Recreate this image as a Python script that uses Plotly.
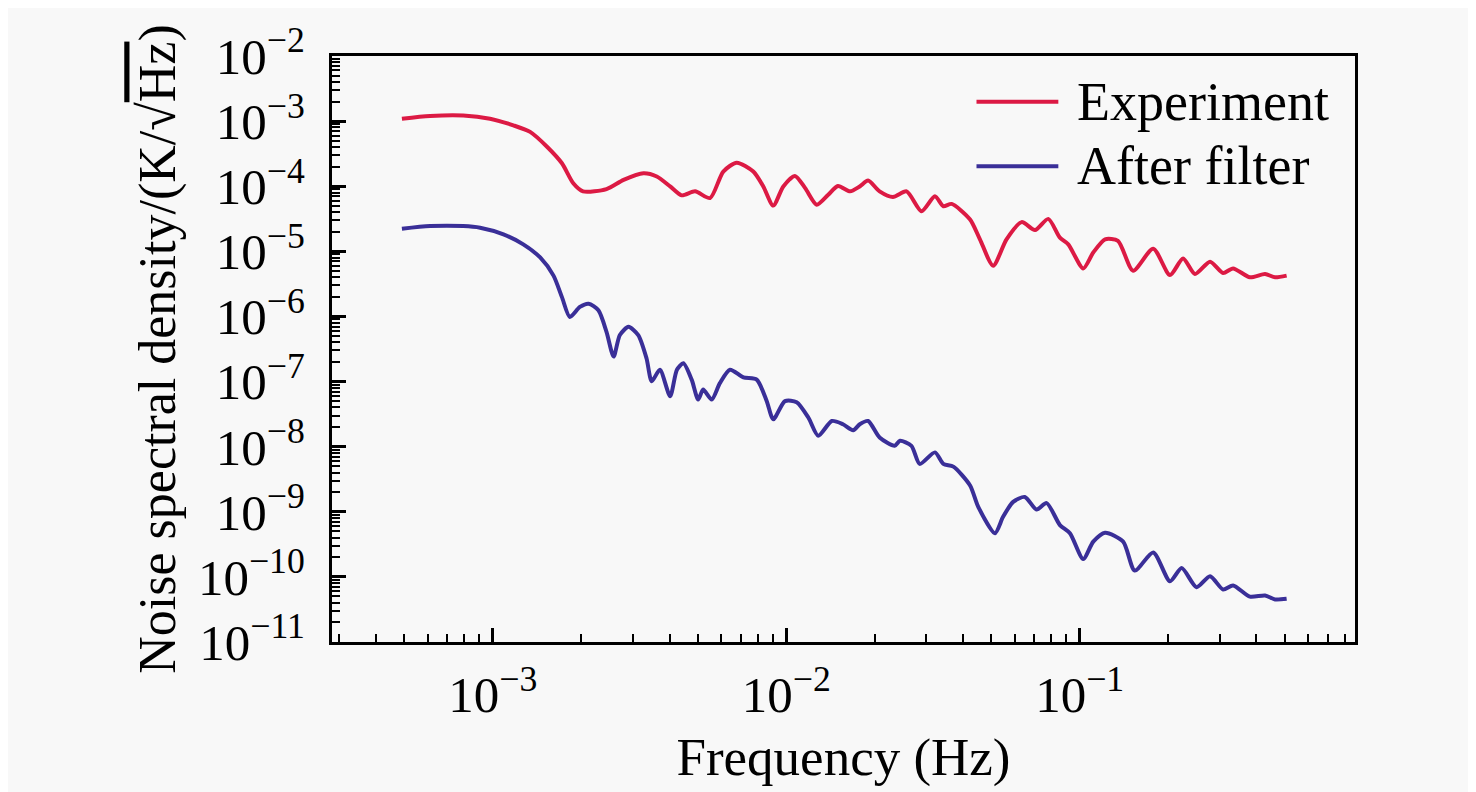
import plotly.graph_objects as go

# Experiment (red) - frequency in Hz, noise spectral density in K/sqrt(Hz)
freq_exp = [4.90e-4, 6.11e-4, 7.93e-4, 9.78e-4, 1.175e-3, 1.34e-3, 1.53e-3, 1.72e-3, 1.88e-3, 2.03e-3,
            2.44e-3, 2.79e-3, 3.26e-3, 3.62e-3, 4.02e-3, 4.40e-3, 4.89e-3, 5.50e-3, 6.10e-3, 6.78e-3,
            7.72e-3, 8.35e-3, 9.03e-3, 9.77e-3, 1.07e-2, 1.16e-2, 1.27e-2, 1.39e-2, 1.50e-2, 1.65e-2,
            1.78e-2, 1.90e-2, 2.08e-2, 2.31e-2, 2.57e-2, 2.89e-2, 3.21e-2, 3.43e-2, 3.66e-2, 4.23e-2,
            4.57e-2, 5.07e-2, 5.63e-2, 6.34e-2, 7.04e-2, 7.81e-2, 8.56e-2, 9.14e-2, 0.1028, 0.1112,
            0.122, 0.135, 0.152, 0.178, 0.203, 0.225, 0.247, 0.278, 0.308, 0.333,
            0.380, 0.428, 0.463, 0.507]
psd_exp = [1.09e-3, 1.20e-3, 1.22e-3, 1.09e-3, 8.61e-4, 6.83e-4, 4.04e-4, 2.25e-4, 1.11e-4, 8.34e-5,
           9.03e-5, 1.25e-4, 1.58e-4, 1.41e-4, 9.93e-5, 7.24e-5, 8.34e-5, 6.59e-5, 1.68e-4, 2.30e-4,
           1.68e-4, 9.93e-5, 5.04e-5, 9.93e-5, 1.44e-4, 9.35e-5, 5.21e-5, 7.40e-5, 1.01e-4, 8.34e-5,
           9.93e-5, 1.22e-4, 8.34e-5, 6.82e-5, 8.34e-5, 4.13e-5, 7.00e-5, 4.93e-5, 5.35e-5, 3.08e-5,
           1.53e-5, 6.01e-6, 1.53e-5, 2.81e-5, 2.12e-5, 3.15e-5, 1.62e-5, 1.28e-5, 5.47e-6, 9.59e-6,
           1.53e-5, 1.45e-5, 5.05e-6, 1.10e-5, 4.32e-6, 7.76e-6, 4.48e-6, 6.92e-6, 4.65e-6, 5.47e-6,
           3.99e-6, 4.48e-6, 3.99e-6, 4.24e-6]

# After filter (blue)
freq_filt = [4.90e-4, 6.11e-4, 7.93e-4, 9.05e-4, 1.087e-3, 1.27e-3, 1.45e-3, 1.61e-3, 1.72e-3, 1.83e-3,
             1.98e-3, 2.12e-3, 2.29e-3, 2.44e-3, 2.58e-3, 2.71e-3, 2.90e-3, 3.13e-3, 3.34e-3, 3.48e-3,
             3.71e-3, 4.02e-3, 4.24e-3, 4.46e-3, 4.76e-3, 5.01e-3, 5.21e-3, 5.57e-3, 5.94e-3, 6.43e-3,
             7.14e-3, 7.93e-3, 8.58e-3, 9.03e-3, 9.90e-3, 1.085e-2, 1.19e-2, 1.285e-2, 1.43e-2, 1.56e-2,
             1.69e-2, 1.78e-2, 1.90e-2, 2.08e-2, 2.34e-2, 2.44e-2, 2.67e-2, 2.85e-2, 3.21e-2, 3.43e-2,
             3.71e-2, 4.23e-2, 4.51e-2, 5.14e-2, 5.48e-2, 5.93e-2, 6.50e-2, 7.13e-2, 7.71e-2, 8.56e-2,
             9.26e-2, 0.1028, 0.1112, 0.122, 0.1406, 0.154, 0.178, 0.203, 0.2225, 0.250,
             0.278, 0.308, 0.333, 0.380, 0.428, 0.463, 0.507]
psd_filt = [2.22e-5, 2.44e-5, 2.44e-5, 2.30e-5, 1.82e-5, 1.28e-5, 8.05e-6, 4.24e-6, 1.98e-6, 9.82e-7,
            1.40e-6, 1.57e-6, 1.24e-6, 5.81e-7, 2.42e-7, 5.18e-7, 6.92e-7, 5.18e-7, 2.28e-7, 1.01e-7,
            1.52e-7, 5.96e-8, 1.52e-7, 1.91e-7, 1.07e-7, 5.30e-8, 7.53e-8, 5.30e-8, 9.48e-8, 1.52e-7,
            1.16e-7, 1.07e-7, 5.00e-8, 2.63e-8, 5.00e-8, 4.82e-8, 2.78e-8, 1.47e-8, 2.48e-8, 2.21e-8,
            1.79e-8, 2.21e-8, 2.48e-8, 1.38e-8, 1.03e-8, 1.23e-8, 1.03e-8, 5.43e-9, 8.17e-9, 5.43e-9,
            4.94e-9, 2.54e-9, 1.19e-9, 4.68e-10, 8.36e-10, 1.42e-9, 1.69e-9, 1.08e-9, 1.36e-9, 6.25e-10,
            4.68e-10, 1.88e-10, 3.48e-10, 4.78e-10, 3.48e-10, 1.25e-10, 2.37e-10, 8.57e-11, 1.37e-10, 6.95e-11,
            1.02e-10, 6.41e-11, 7.38e-11, 4.97e-11, 5.19e-11, 4.51e-11, 4.62e-11]

series_names = ["Experiment", "After filter"]
series_colors = ["#dc1a44", "#3a2f98"]

# tick labels
x_tickvals = [1e-3, 1e-2, 1e-1]
x_ticktext = ["10<sup>\u22123</sup>", "10<sup>\u22122</sup>", "10<sup>\u22121</sup>"]
y_tickvals = [1e-11, 1e-10, 1e-9, 1e-8, 1e-7, 1e-6, 1e-5, 1e-4, 1e-3, 1e-2]
y_ticktext = ["10<sup>\u2212%d</sup>" % n for n in [11, 10, 9, 8, 7, 6, 5, 4, 3, 2]]

FONT = "Liberation Serif, Times New Roman, serif"
BG = "#f8f8f8"

# minor ticks at 2..9 of every decade
x_minor = [d * 10.0 ** e for e in range(-4, 0) for d in range(2, 10)]
y_minor = [d * 10.0 ** e for e in range(-11, -2) for d in range(2, 10)]

fig = go.Figure()
for xs, ys, name, col in [(freq_exp, psd_exp, series_names[0], series_colors[0]),
                          (freq_filt, psd_filt, series_names[1], series_colors[1])]:
    fig.add_trace(go.Scatter(x=xs, y=ys, mode="lines", name=name, showlegend=False,
                             line=dict(color=col, width=4, shape="spline", smoothing=0.7)))

# legend drawn by hand: the reference uses long line samples
legend_y = [0.922, 0.812]
for name, col, ly in zip(series_names, series_colors, legend_y):
    fig.add_shape(type="line", xref="paper", yref="paper",
                  x0=0.630, x1=0.710, y0=ly, y1=ly,
                  line=dict(color=col, width=4))
    fig.add_annotation(xref="paper", yref="paper", x=0.726, y=ly,
                       xanchor="left", yanchor="middle", showarrow=False,
                       text=name, font=dict(family=FONT, size=54, color="black"))

axis_common = dict(
    type="log",
    showline=True, linecolor="black", linewidth=3, mirror=True,
    ticks="inside", ticklen=14, tickwidth=2.5, tickcolor="black",
    showgrid=False, zeroline=False,
    tickfont=dict(family=FONT, size=51, color="black"),
)

# page body adds an 8px offset, so the figure is 8px smaller than the window
fig.update_layout(
    width=1468, height=784,
    margin=dict(l=324, r=121, t=43, b=150),
    paper_bgcolor=BG, plot_bgcolor=BG,
    font=dict(family=FONT, color="black"),
    xaxis=dict(axis_common,
               range=[-3.548, -0.062],
               tickmode="array", tickvals=x_tickvals, ticktext=x_ticktext,
               ticklabelstandoff=6,
               minor=dict(tickmode="array", tickvals=x_minor, ticks="inside", ticklen=8,
                          tickwidth=2, tickcolor="black"),
               title=dict(text="Frequency (Hz)", font=dict(family=FONT, size=53), standoff=16)),
    yaxis=dict(axis_common,
               range=[-11, -2],
               tickmode="array", tickvals=y_tickvals, ticktext=y_ticktext,
               ticklabelstandoff=14,
               minor=dict(tickmode="array", tickvals=y_minor, ticks="inside", ticklen=8,
                          tickwidth=2, tickcolor="black"),
               title=dict(text="Noise spectral density/(K/\u221a<span style='text-decoration:overline'>Hz</span>)",
                          font=dict(family=FONT, size=52), standoff=6)),
    showlegend=False,
)

fig.write_html("out.html")
